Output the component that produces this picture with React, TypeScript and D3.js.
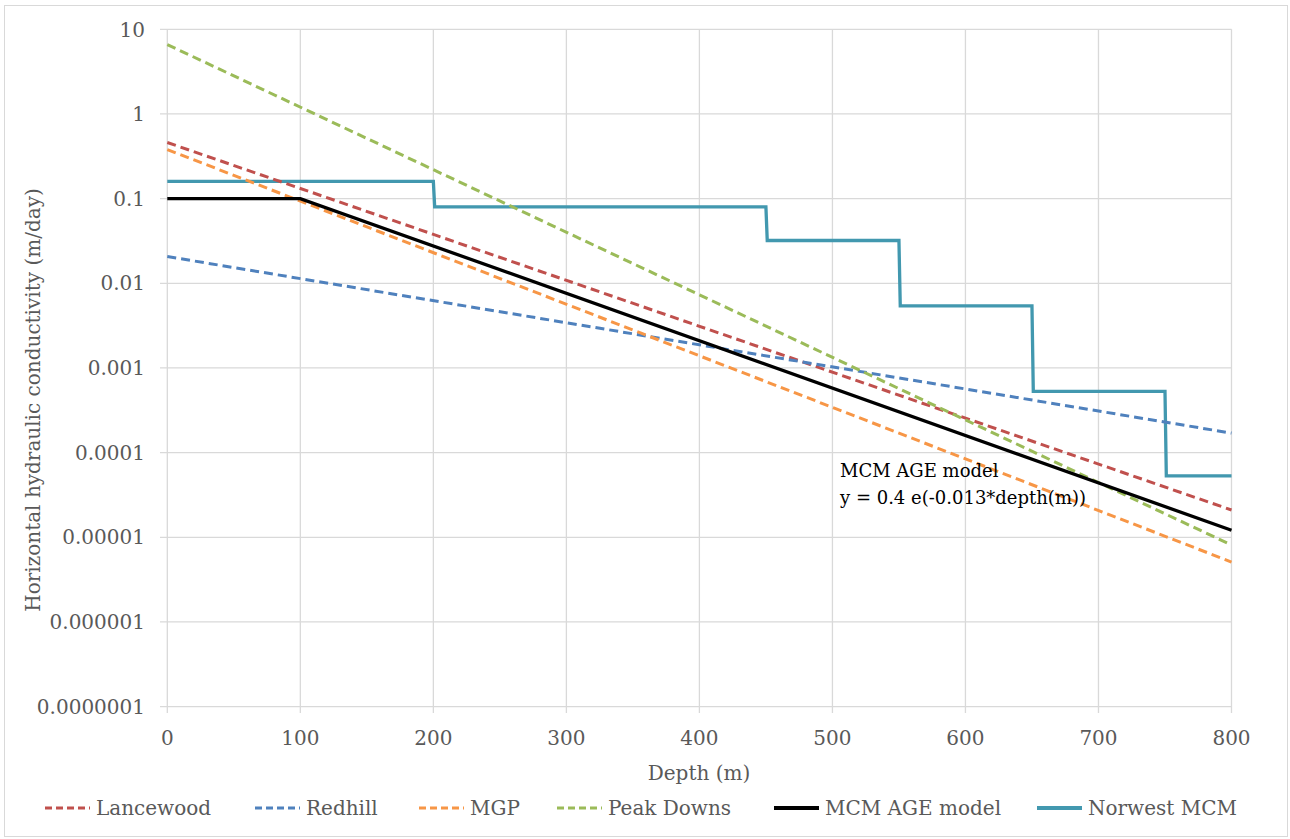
import React from "react";
import * as d3 from "d3";

const depthTicks = [0, 100, 200, 300, 400, 500, 600, 700, 800];
const kTicks = [10, 1, 0.1, 0.01, 0.001, 0.0001, 0.00001, 0.000001, 0.0000001];
const kTickLabels = ["10", "1", "0.1", "0.01", "0.001", "0.0001", "0.00001", "0.000001", "0.0000001"];

const lancewoodDepth = [0, 800];
const lancewoodK = [0.46, 0.000021];
const redhillDepth = [0, 800];
const redhillK = [0.0207, 0.00017];
const mgpDepth = [0, 800];
const mgpK = [0.38, 0.0000051];
const peakDownsDepth = [0, 800];
const peakDownsK = [6.6, 0.0000081];
const mcmDepth = [0, 100, 800];
const mcmK = [0.1, 0.1, 0.0000121];
const norwestDepth = [0, 200, 201, 450, 451, 550, 551, 650, 651, 750, 751, 800];
const norwestK = [0.16, 0.16, 0.08, 0.08, 0.032, 0.032, 0.0054, 0.0054, 0.00053, 0.00053, 0.000053, 0.000053];

const seriesNames = ["Lancewood", "Redhill", "MGP", "Peak Downs", "MCM AGE model", "Norwest MCM"];
const seriesColors = ["#C0504D", "#4F81BD", "#F79646", "#9BBB59", "#000000", "#4298AF"];

const FONT = "'DejaVu Serif', serif";
const TEXT = "#595959";

export default function App() {
  const x = d3.scaleLinear().domain([0, 800]).range([167.3, 1231.5]);
  const y = d3.scaleLog().domain([0.0000001, 10]).range([706.6, 29.3]);
  const line = d3
    .line<[number, number]>()
    .x((d) => x(d[0]))
    .y((d) => y(d[1]));
  const zip = (a: number[], b: number[]) => a.map((v, i) => [v, b[i]] as [number, number]);

  const series = [
    { d: zip(lancewoodDepth, lancewoodK), dash: true, w: 3 },
    { d: zip(redhillDepth, redhillK), dash: true, w: 3 },
    { d: zip(mgpDepth, mgpK), dash: true, w: 3 },
    { d: zip(peakDownsDepth, peakDownsK), dash: true, w: 3 },
    { d: zip(mcmDepth, mcmK), dash: false, w: 3.3 },
    { d: zip(norwestDepth, norwestK), dash: false, w: 3.3 },
  ];
  const drawOrder = [5, 0, 1, 2, 3, 4];

  const legendLineX = [45, 255, 419, 557, 774, 1037];

  return (
    <svg
      width={1290}
      height={839}
      style={{ position: "absolute", left: 0, top: 0, background: "#fff" }}
      fontFamily={FONT}
    >
      <rect x={4.5} y={5.5} width={1283} height={831} fill="#fff" stroke="#d9d9d9" strokeWidth={1} />
      {kTicks.map((t) => (
        <line key={"h" + t} x1={160} x2={1231.5} y1={y(t)} y2={y(t)} stroke="#d9d9d9" strokeWidth={1.3} />
      ))}
      {depthTicks.map((t) => (
        <line key={"v" + t} x1={x(t)} x2={x(t)} y1={29.3} y2={713} stroke="#d9d9d9" strokeWidth={1.3} />
      ))}
      {kTicks.map((t, i) => (
        <text key={"yl" + t} x={145} y={y(t)} dy="0.36em" textAnchor="end" fontSize={20} fill={TEXT}>
          {kTickLabels[i]}
        </text>
      ))}
      {depthTicks.map((t) => (
        <text key={"xl" + t} x={x(t)} y={738} dy="0.36em" textAnchor="middle" fontSize={20} fill={TEXT}>
          {t}
        </text>
      ))}
      {drawOrder.map((i) => (
        <path
          key={"s" + i}
          d={line(series[i].d) || ""}
          fill="none"
          stroke={seriesColors[i]}
          strokeWidth={series[i].w}
          strokeDasharray={series[i].dash ? "9,5" : undefined}
        />
      ))}
      <text x={840} y={477} fontSize={18} fill="#000">MCM AGE model</text>
      <text x={840} y={504} fontSize={18} fill="#000">y = 0.4 e(-0.013*depth(m))</text>
      <text x={699} y={780} textAnchor="middle" fontSize={20} fill={TEXT}>Depth (m)</text>
      <text transform="translate(40,400) rotate(-90)" textAnchor="middle" fontSize={20} fill={TEXT}>
        Horizontal hydraulic conductivity (m/day)
      </text>
      {seriesNames.map((n, i) => (
        <g key={"lg" + n}>
          <line
            x1={legendLineX[i]}
            x2={legendLineX[i] + 45}
            y1={808}
            y2={808}
            stroke={seriesColors[i]}
            strokeWidth={series[i].dash ? 3.2 : 4}
            strokeDasharray={series[i].dash ? "7,4" : undefined}
          />
          <text x={legendLineX[i] + 51} y={808} dy="0.36em" fontSize={20} fill={TEXT}>
            {n}
          </text>
        </g>
      ))}
    </svg>
  );
}
